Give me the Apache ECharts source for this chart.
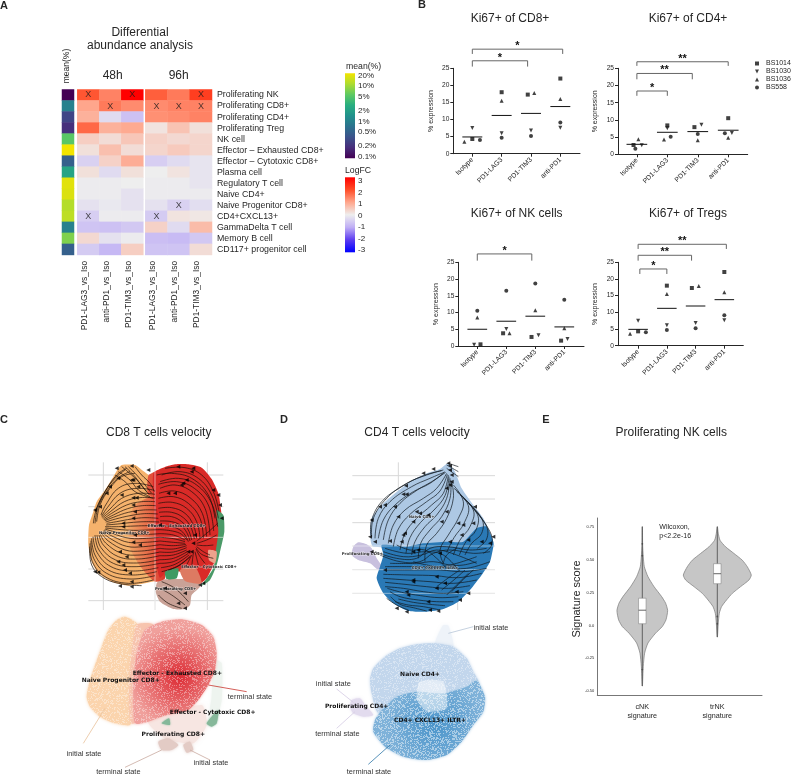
<!DOCTYPE html>
<html>
<head>
<meta charset="utf-8">
<style>
  html, body { margin: 0; padding: 0; background: #fff; }
  #chart { width: 791px; height: 775px; }
</style>
<script src="https://cdn.jsdelivr.net/npm/echarts@6/dist/echarts.min.js"></script>
</head>
<body>
<div id="chart"></div>
<script>
// panel A
const cellTypes = ['Proliferating NK', 'Proliferating CD8+', 'Proliferating CD4+', 'Proliferating Treg', 'NK cell',
  'Effector – Exhausted CD8+', 'Effector – Cytotoxic CD8+', 'Plasma cell', 'Regulatory T cell', 'Naive CD4+',
  'Naive Progenitor CD8+', 'CD4+CXCL13+', 'GammaDelta T cell', 'Memory B cell', 'CD117+ progenitor cell']
const contrasts = ['PD1-LAG3_vs_Iso', 'anti-PD1_vs_Iso', 'PD1-TIM3_vs_Iso']
const meanPercent = [0.1, 1, 0.3, 0.2, 5, 20, 0.5, 2.2, 17, 16, 11, 12, 1, 7, 0.5]
const logFc48h = [
  [1.9, 1.4, 3.0], [1.0, 1.5, 1.3], [0.85, -0.3, -0.7], [1.7, 0.85, 0.95], [0.45, 0.25, 0.55],
  [0.2, 0.65, 0.25], [-0.45, 0.4, 0.9], [0.2, -0.3, 0.2], [-0.05, -0.05, 0], [-0.05, -0.05, -0.2],
  [-0.2, -0.1, -0.2], [-0.5, -0.05, -0.05], [-0.65, -0.7, -0.6], [0.3, -0.2, -0.05], [-0.55, -0.85, 0.45]
]
const logFc96h = [
  [1.8, 1.5, 2.2], [1.3, 1.4, 1.4], [1.25, 1.3, 1.4], [0.15, 0.6, 0.2], [0.4, 0.3, 0.35],
  [0.35, 0.5, 0.35], [-0.5, -0.3, -0.15], [0, 0.15, -0.15], [-0.05, -0.05, -0.15], [-0.05, -0.05, -0.05],
  [-0.2, -0.45, -0.25], [-0.55, 0.15, 0.1], [0.4, -0.3, 0.7], [-0.75, -0.8, -0.6], [-0.65, -0.65, 0.25]
]
const marks48h = [[0, 0], [2, 0], [1, 1], [0, 11]]
const marks96h = [[2, 0], [0, 1], [1, 1], [2, 1], [1, 10], [0, 11]]
const meanTicks = [0.1, 0.2, 0.5, 1, 2, 5, 10, 20]
const logFcTicks = [-3, -2, -1, 0, 1, 2, 3]

// panel B
const treatments = ['Isotype', 'PD1-LAG3', 'PD1-TIM3', 'anti-PD1']
const donors = ['BS1014', 'BS1030', 'BS1036', 'BS558']
const cd8Values = [[4.3, 18, 17.3, 22], [7.5, 6, 6.8, 7.6], [3.5, 15.5, 17.8, 16], [4, 4.7, 5.2, 9.1]]
const cd8Jitter = [[0, 0, -0.11, 0], [0, 0, 0, 0], [-0.27, 0, 0.11, 0], [0.26, 0, 0, 0]]
const cd8Means = [4.9, 11.2, 11.8, 13.8]
const cd8Brackets = [[0, 3.08, 30.6, 29.2, '*'], [0, 1.885, 27.2, 25.5, '*']]
const cd4Values = [[2.7, 8.4, 7.9, 10.5], [2.6, 7.6, 8.6, 6.2], [4.4, 4.3, 4.1, 4.8], [1.6, 5.1, 5.9, 6.1]]
const cd4Jitter = [[-0.11, 0, -0.11, 0], [0.16, 0, 0.12, 0.12], [0.05, -0.11, 0, 0], [-0.05, 0.11, 0, -0.11]]
const cd4Means = [2.9, 6.4, 6.6, 7]
const cd4Brackets = [[0, 3, 26.9, 25.7, '**'], [0, 1.82, 23.5, 21.8, '**'], [0, 1, 18.4, 17, '*']]
const nkValues = [[0.5, 3.8, 2.7, 1.6], [0.4, 5.1, 3.2, 2.1], [8.5, 3.8, 10.7, 5.3], [10.5, 16.5, 18.7, 13.8]]
const nkJitter = [[0.11, -0.11, -0.13, -0.11], [-0.11, 0, 0.11, 0.11], [0, 0.11, 0, 0], [0, 0, 0, 0]]
const nkMeans = [5, 7.4, 8.9, 5.7]
const nkBrackets = [[0, 1.88, 27.5, 25.5, '*']]
const tregValues = [[4.3, 18, 17.3, 22.1], [7.5, 6.1, 6.8, 7.6], [3.6, 15.5, 17.9, 16], [4, 4.7, 5.2, 9.1]]
const tregJitter = [[0, 0, -0.13, 0], [0, 0, 0, 0], [-0.28, 0, 0.11, 0], [0.27, 0, 0, 0]]
const tregMeans = [4.9, 11.2, 11.9, 13.8]
const tregBrackets = [[0, 3.07, 30.4, 29, '**'], [0, 1.86, 27.1, 25.5, '**'], [0.06, 1, 23, 21.5, '*']]

// panel C, read in the pixels of the 3x crops
const cd8TopOrange = [[110, 30], [150, 30], [175, 48], [195, 62], [215, 60], [225, 200], [225, 370], [180, 385], [130, 392], [80, 380], [40, 355], [20, 320], [10, 270], [12, 210], [25, 170], [35, 140], [60, 105], [85, 65], [100, 40]]
const cd8TopSeam = [[190, 62], [215, 48], [240, 42], [240, 120], [190, 120]]
const cd8TopMix = [[225, 110], [150, 150], [130, 200], [135, 280], [170, 340], [210, 380], [240, 370], [240, 110]]
const cd8TopRed = [[205, 55], [240, 36], [270, 28], [310, 28], [350, 38], [380, 72], [400, 115], [408, 165], [412, 215], [405, 265], [395, 300], [385, 330], [365, 370], [345, 385], [330, 345], [290, 350], [250, 345], [225, 368], [210, 300], [208, 180]]
const cd8TopGreenRight = [[395, 165], [415, 180], [418, 230], [405, 290], [395, 330], [375, 375], [350, 392], [385, 340], [392, 290], [400, 230]]
const cd8TopGreenLeft = [[240, 350], [280, 340], [275, 370], [245, 372]]
const cd8TopSalmon = [[285, 345], [330, 335], [350, 385], [300, 378]]
const cd8TopPale = [[370, 285], [395, 290], [390, 325], [372, 315]]
const cd8TopTan = [[215, 385], [225, 375], [260, 372], [300, 372], [345, 372], [345, 395], [320, 420], [315, 450], [300, 462], [265, 462], [225, 440], [212, 410]]
const cd8TopGridV = [[[55, 22], [55, 465]], [[210, 22], [210, 465]], [[367, 22], [367, 465]]]
const cd8TopGridH = [[[10, 60], [415, 60]], [[10, 155], [415, 155]], [[10, 247], [415, 247]], [[10, 342], [415, 342]], [[10, 437], [415, 437]]]
const cd8TopStreams = [
  [[48, 180], [62, 150], [100, 100], [150, 85], [205, 95]], [[50, 186], [72, 165], [110, 130], [160, 115], [210, 118]],
  [[55, 192], [80, 175], [125, 150], [170, 140], [210, 140]], [[60, 197], [90, 185], [130, 172], [175, 165], [215, 165]],
  [[65, 205], [95, 200], [140, 192], [180, 188], [220, 190]], [[60, 215], [100, 215], [150, 213], [190, 212], [225, 212]],
  [[60, 222], [95, 232], [140, 238], [190, 238], [225, 236]], [[55, 228], [85, 245], [130, 262], [180, 262], [225, 258]],
  [[50, 235], [70, 258], [120, 285], [170, 288], [225, 280]], [[42, 240], [55, 270], [100, 305], [160, 312], [225, 302]],
  [[30, 240], [42, 285], [85, 325], [150, 335], [225, 325]], [[20, 250], [30, 300], [70, 345], [140, 360], [215, 350]],
  [[15, 265], [22, 320], [60, 365], [130, 385], [205, 375]], [[35, 200], [45, 150], [75, 100], [110, 65], [150, 55]],
  [[25, 205], [35, 160], [60, 110], [90, 70], [120, 45]], [[110, 35], [140, 60], [165, 85], [185, 110]],
  [[130, 35], [155, 60], [180, 90], [200, 115]], [[90, 60], [120, 80], [150, 110], [205, 130]],
  [[50, 183], [67, 158], [105, 115], [155, 100], [208, 106]], [[52, 189], [76, 170], [118, 140], [165, 128], [210, 129]],
  [[57, 195], [85, 180], [128, 161], [172, 152], [212, 152]], [[62, 201], [92, 192], [135, 182], [178, 176], [218, 177]],
  [[63, 210], [98, 207], [145, 202], [185, 200], [222, 201]], [[62, 219], [98, 223], [145, 226], [190, 225], [225, 224]],
  [[57, 225], [90, 238], [135, 250], [185, 250], [225, 247]], [[52, 232], [78, 252], [125, 274], [175, 275], [225, 269]],
  [[46, 238], [62, 264], [110, 295], [165, 300], [225, 291]], [[36, 240], [48, 278], [92, 315], [155, 324], [225, 314]],
  [[24, 245], [36, 292], [78, 335], [145, 348], [220, 338]], [[18, 257], [26, 310], [65, 355], [135, 372], [210, 362]],
  [[30, 205], [40, 155], [68, 105], [100, 68], [135, 50]], [[14, 275], [20, 330], [50, 365], [100, 385], [170, 392]],
  [[30, 170], [60, 110], [95, 60], [125, 40]], [[100, 50], [135, 75], [160, 105], [195, 125]],
  [[120, 35], [150, 65], [172, 95], [192, 118]], [[150, 35], [170, 60], [195, 85], [208, 110]],
  [[215, 60], [260, 55], [320, 70], [370, 120], [390, 190]], [[225, 100], [270, 90], [320, 110], [360, 160], [375, 240]],
  [[220, 130], [265, 125], [310, 145], [345, 190], [355, 250]], [[220, 160], [260, 158], [300, 175], [325, 210], [335, 250]],
  [[225, 185], [260, 185], [290, 200], [310, 225], [320, 255]], [[225, 212], [260, 215], [285, 225], [300, 240], [310, 260]],
  [[225, 236], [265, 240], [300, 255]], [[225, 258], [265, 262], [300, 265]], [[225, 280], [265, 282], [305, 272]],
  [[225, 302], [265, 300], [305, 285]], [[225, 325], [265, 320], [310, 295]], [[230, 350], [275, 335], [315, 305]],
  [[300, 340], [310, 320], [320, 300]], [[340, 330], [335, 310], [330, 290]], [[375, 300], [355, 290], [335, 275]],
  [[395, 240], [365, 255], [335, 265]], [[240, 40], [300, 38], [350, 60], [385, 110], [402, 170]],
  [[225, 80], [280, 70], [335, 90], [380, 145], [398, 215]],
  [[220, 88], [275, 80], [328, 100], [370, 150], [386, 228]], [[222, 115], [268, 108], [315, 128], [352, 175], [365, 245]],
  [[220, 145], [262, 142], [305, 160], [335, 200], [345, 250]], [[222, 172], [260, 172], [295, 188], [318, 218], [328, 252]],
  [[225, 198], [260, 200], [288, 212], [305, 232], [315, 258]], [[225, 224], [262, 228], [290, 238], [305, 255]],
  [[225, 247], [265, 251], [300, 260]], [[225, 269], [265, 272], [303, 268]], [[225, 291], [265, 291], [305, 278]],
  [[225, 314], [265, 310], [307, 290]], [[228, 338], [270, 328], [312, 300]], [[250, 345], [285, 330], [318, 302]],
  [[320, 340], [322, 318], [325, 295]], [[360, 325], [345, 305], [333, 282]], [[385, 270], [360, 272], [335, 270]],
  [[398, 205], [365, 235], [335, 258]], [[385, 310], [350, 298], [333, 278]], [[230, 60], [285, 50], [340, 70], [380, 120], [400, 190]],
  [[225, 400], [260, 420], [300, 450]], [[230, 380], [270, 400], [310, 440]], [[220, 420], [250, 445], [290, 460]]
]
const cd8TopArrows = [[145, 128], [145, 150], [150, 170], [145, 190], [115, 205], [115, 215], [150, 240], [145, 262], [165, 270], [105, 290], [125, 305], [115, 330], [120, 345], [135, 355], [100, 320], [140, 380], [140, 395], [105, 393], [30, 350], [40, 352], [45, 155], [30, 165], [65, 115], [75, 95], [95, 40], [140, 33], [190, 45], [145, 75], [160, 95], [140, 75], [100, 70], [110, 120], [155, 128], [295, 85], [305, 75], [290, 90], [270, 115], [250, 115], [280, 35], [325, 40], [385, 105], [400, 120], [405, 150], [410, 190], [330, 240], [325, 265], [320, 290], [310, 290], [225, 210], [345, 390], [355, 385], [300, 415], [280, 445], [300, 460], [240, 400], [320, 50]]
const cd8TopLabels = [['Effector - Exhausted CD8+', 275, 212], ['Naive Progenitor CD8+', 118, 233], ['Effector - Cytotoxic CD8+', 372, 335], ['Proliferating CD8+', 272, 403]]

const cd8BottomOrange = [[180, 20], [210, 35], [235, 65], [240, 100], [215, 140], [205, 200], [215, 290], [195, 345], [150, 340], [105, 320], [75, 290], [65, 260], [75, 210], [90, 165], [110, 110], [130, 60], [155, 30]]
const cd8BottomBlend = [[215, 45], [265, 45], [265, 300], [200, 340], [195, 200]]
const cd8BottomRed = [[240, 60], [290, 35], [350, 28], [410, 45], [445, 80], [455, 130], [450, 180], [430, 225], [400, 270], [370, 300], [330, 310], [290, 320], [250, 335], [210, 340], [205, 230], [215, 130]]
const cd8BottomTanA = [[280, 395], [310, 385], [340, 405], [320, 420], [290, 420]]
const cd8BottomTanB = [[355, 405], [375, 395], [385, 420], [365, 428]]
const cd8BottomHaze = [[250, 335], [410, 285], [425, 345], [385, 400], [300, 385]]
const cd8BottomHazeGreen = [[448, 150], [470, 160], [470, 270], [450, 340], [430, 345], [440, 260]]
const cd8BottomGreenA = [[425, 340], [460, 300], [455, 340], [440, 350]]
const cd8BottomGreenB = [[290, 340], [312, 325], [315, 345]]
const cd8BottomLeaders = [[[430, 225], [545, 245]], [[120, 295], [55, 400]], [[290, 420], [180, 472]], [[375, 420], [435, 450]]]
const cd8BottomLabels = [['Effector - Exhausted CD8+', 337, 190], ['Naive Progenitor CD8+', 167, 212], ['Effector - Cytotoxic CD8+', 443, 308], ['Proliferating CD8+', 325, 373]]
const cd8BottomStates = [['terminal state', 555, 262], ['initial state', 57, 431], ['terminal state', 160, 485], ['initial state', 438, 460]]

// panel D
const cd4TopLight = [[355, 25], [375, 50], [395, 100], [430, 150], [460, 190], [485, 245], [490, 275], [130, 275], [120, 240], [125, 190], [150, 155], [195, 115], [240, 80], [290, 55], [330, 42]]
const cd4TopDark = [[470, 215], [490, 260], [490, 275], [480, 320], [455, 360], [420, 405], [385, 440], [340, 462], [290, 470], [235, 468], [190, 445], [160, 415], [140, 370], [150, 335], [160, 300], [155, 270], [230, 275], [280, 265], [350, 260], [400, 260], [440, 220]]
const cd4TopPurple = [[85, 262], [110, 268], [125, 280], [140, 310], [160, 340], [145, 345], [120, 325], [85, 315], [65, 300], [70, 275]]
const cd4TopGridV = [[[205, 22], [205, 465]], [[383, 370], [383, 465]]]
const cd4TopGridH = [[[67, 62], [495, 62]], [[67, 132], [495, 132]], [[67, 203], [495, 203]], [[67, 273], [495, 273]], [[67, 344], [495, 344]], [[67, 415], [495, 415]]]
const cd4TopStreams = [
  [[340, 45], [290, 60], [230, 85], [170, 130], [130, 190], [125, 245]], [[345, 50], [300, 85], [250, 110], [195, 150], [160, 195], [145, 250]],
  [[350, 55], [320, 100], [280, 130], [225, 165], [190, 210], [175, 265]], [[355, 60], [340, 115], [305, 150], [260, 190], [225, 235], [210, 285]],
  [[360, 70], [350, 130], [320, 180], [285, 215], [255, 260], [245, 300]], [[365, 80], [370, 130], [350, 190], [320, 235], [290, 270], [285, 320]],
  [[370, 90], [400, 140], [385, 190], [355, 240], [330, 285], [340, 325]], [[380, 110], [430, 165], [420, 215], [390, 255], [370, 300]],
  [[400, 130], [455, 190], [455, 235], [425, 265], [405, 300]], [[430, 160], [480, 230], [485, 270], [460, 295]],
  [[355, 25], [385, 35]], [[350, 30], [385, 50]], [[350, 40], [385, 65]], [[165, 280], [230, 295], [290, 290], [340, 300], [385, 345]],
  [[470, 340], [400, 350], [330, 345], [250, 345], [170, 345]], [[440, 375], [370, 385], [300, 380], [230, 375], [160, 370]],
  [[400, 410], [340, 415], [280, 410], [220, 400], [165, 395]], [[370, 440], [320, 440], [265, 435], [210, 425], [180, 410]],
  [[330, 465], [280, 455], [235, 450], [195, 440]], [[235, 465], [200, 450], [170, 430]], [[390, 345], [360, 365], [320, 395]],
  [[415, 355], [385, 385], [350, 420]], [[380, 280], [350, 300], [340, 325]], [[250, 320], [290, 330], [330, 335], [380, 325], [440, 305]],
  [[135, 290], [200, 310], [260, 310], [300, 280], [350, 275], [420, 285], [470, 280]], [[342, 52], [300, 70], [245, 95], [180, 140], [145, 190], [135, 250]],
  [[352, 58], [330, 108], [290, 140], [240, 178], [205, 222], [190, 275]], [[362, 75], [360, 130], [335, 185], [300, 225], [272, 265], [265, 310]],
  [[347, 52], [305, 80], [262, 105], [210, 145], [175, 195], [160, 255]], [[357, 65], [345, 122], [312, 165], [272, 202], [240, 248], [228, 295]],
  [[372, 100], [415, 152], [402, 205], [372, 248], [350, 292]], [[390, 120], [442, 178], [438, 225], [408, 260], [388, 300]],
  [[415, 145], [468, 210], [470, 252], [442, 280]], [[335, 47], [280, 62], [215, 95], [155, 140], [125, 195], [122, 240]],
  [[150, 300], [210, 320], [270, 320], [310, 295], [360, 285], [430, 295], [480, 290]], [[160, 290], [220, 305], [275, 300], [320, 285], [380, 300], [440, 325]],
  [[200, 270], [240, 285], [285, 285], [320, 310], [345, 335]], [[440, 320], [400, 330], [360, 330], [310, 320], [260, 325], [180, 325]],
  [[480, 320], [410, 340], [340, 338], [250, 335], [165, 335]], [[455, 355], [385, 368], [315, 362], [240, 360], [160, 358]],
  [[420, 392], [355, 400], [290, 395], [225, 388], [165, 382]], [[385, 425], [330, 428], [272, 422], [215, 412], [172, 400]],
  [[345, 452], [300, 448], [250, 442], [205, 432]], [[290, 468], [250, 458], [210, 448], [182, 425]],
  [[430, 345], [395, 378], [365, 410]], [[405, 345], [375, 372], [335, 405]]
]
const cd4TopArrows = [[355, 25], [360, 32], [360, 45], [365, 60], [365, 80], [360, 90], [350, 100], [310, 42], [280, 55], [228, 92], [220, 118], [230, 118], [150, 155], [165, 150], [125, 195], [120, 245], [135, 260], [195, 155], [205, 185], [260, 170], [270, 175], [295, 180], [250, 200], [225, 235], [220, 240], [180, 258], [215, 260], [350, 170], [335, 200], [385, 205], [400, 210], [430, 205], [395, 240], [415, 255], [455, 260], [480, 265], [490, 245], [435, 155], [250, 290], [265, 285], [330, 295], [360, 260], [165, 345], [250, 375], [250, 380], [230, 410], [235, 420], [320, 365], [345, 385], [320, 400], [380, 410], [415, 415], [390, 435], [200, 460], [230, 470], [300, 465], [325, 468], [295, 440], [125, 290]]
const cd4TopLabels = [['Naive CD4+', 275, 185], ['CD4+ CXCL13+ ILTR+', 315, 340], ['Proliferating CD4+', 97, 296]]

const cd4BottomPeak = [[398, 32], [415, 32], [430, 95], [375, 90]]
const cd4BottomLight = [[375, 85], [430, 95], [470, 130], [490, 170], [505, 200], [480, 270], [300, 300], [205, 295], [185, 235], [180, 195], [190, 160], [225, 125], [265, 102], [320, 88]]
const cd4BottomDark = [[500, 195], [525, 245], [520, 290], [490, 330], [455, 380], [410, 420], [350, 435], [280, 425], [225, 395], [190, 350], [195, 315], [220, 280], [260, 245], [320, 230], [400, 235], [470, 215]]
const cd4BottomPale = [[330, 200], [400, 200], [410, 280], [350, 290], [320, 250]]
const cd4BottomPurple = [[125, 255], [150, 250], [165, 270], [190, 300], [160, 305], [130, 295], [120, 275]]
const cd4BottomLeaderInitial = [[[415, 55], [490, 35]]]
const cd4BottomLeaderPurple = [[[80, 222], [130, 262]], [[80, 340], [135, 290]]]
const cd4BottomLeaderDark = [[[175, 448], [240, 390]]]
const cd4BottomLabels = [['Naive CD4+', 330, 177], ['Proliferating CD4+', 140, 275], ['CD4+ CXCL13+ ILTR+', 360, 317]]
const cd4BottomStates = [['initial state', 543, 38], ['initial state', 70, 207], ['terminal state', 82, 358], ['terminal state', 177, 470]]

// panel E, score against half width of the violin
const signatureNames = ['cNK\nsignature', 'trNK\nsignature']
const cnkScores = [-0.46, -0.31, -0.21, -0.133, -0.058, -0.008, 0.043, 0.113, 0.169, 0.219, 0.295, 0.37, 0.446, 0.52, 0.62, 0.75]
const cnkDensity = [0.002, 0.013, 0.031, 0.076, 0.178, 0.267, 0.316, 0.338, 0.311, 0.258, 0.156, 0.076, 0.027, 0.013, 0.004, 0.002]
const trnkScores = [-0.088, 0.018, 0.093, 0.144, 0.194, 0.244, 0.295, 0.345, 0.383, 0.446, 0.496, 0.547, 0.597, 0.647, 0.7, 0.75]
const trnkDensity = [0.002, 0.013, 0.027, 0.058, 0.124, 0.2, 0.311, 0.422, 0.453, 0.4, 0.333, 0.222, 0.111, 0.036, 0.013, 0.002]
const signatureBoxes = [[-0.46, 0.013, 0.116, 0.207, 0.75], [-0.088, 0.317, 0.393, 0.469, 0.75]]
const signatureOutliers = [[0, 0.62], [0, 0.53], [0, -0.335], [1, 0.068], [1, 0.013]]
const signatureTicks = [-0.5, -0.25, 0, 0.25, 0.5, 0.75]

const viridis = ['#440154', '#472d7b', '#3b528b', '#2c728e', '#21918c', '#28ae80', '#5ec962', '#addc30', '#f2e400']
const logFcColors = ['#0000ff', '#5c3cf0', '#bfaef5', '#eeeeee', '#ffa68c', '#ff4d28', '#ff0000']
const ink = '#262626'

// white speckle tile, only a look for the filled umap regions
function speckleTile(density, alpha) {
  const size = 160
  const tile = document.createElement('canvas')
  tile.width = size
  tile.height = size
  const ctx = tile.getContext('2d')
  ctx.fillStyle = 'rgba(255,255,255,' + alpha + ')'
  for (let y = 0; y < size; y++) {
    for (let x = 0; x < size; x++) {
      const h = Math.sin(x * 12.9898 + y * 78.233) * 43758.5453
      if (h - Math.floor(h) < density) ctx.fillRect(x, y, 1, 1)
    }
  }
  return tile
}
const speckle = { image: speckleTile(0.25, 0.35), repeat: 'repeat' }
const speckleDense = { image: speckleTile(0.32, 0.45), repeat: 'repeat' }

function gradV(colors) {
  return new echarts.graphic.LinearGradient(0, 1, 0, 0, colors.map((c, i) => ({ offset: i / (colors.length - 1), color: c })))
}
function gradH(from, to) {
  return new echarts.graphic.LinearGradient(0, 0, 1, 0, [{ offset: 0, color: from }, { offset: 1, color: to }])
}
function gradR(center, edge) {
  return new echarts.graphic.RadialGradient(0.55, 0.55, 0.6, [{ offset: 0, color: center }, { offset: 1, color: edge }])
}

const grids = []
const xAxes = []
const yAxes = []
const series = []

function addGrid(box, xAxis, yAxis) {
  const i = grids.length
  grids.push(Object.assign({ containLabel: false }, box))
  xAxes.push(Object.assign({ gridIndex: i }, xAxis))
  yAxes.push(Object.assign({ gridIndex: i }, yAxis))
  return i
}
function customSeries(g, items, renderOne) {
  series.push({
    type: 'custom',
    coordinateSystem: 'cartesian2d',
    xAxisIndex: g,
    yAxisIndex: g,
    silent: true,
    data: items.map((_, i) => [i]),
    renderItem: (params, api) => renderOne(items[params.dataIndex], api)
  })
}
// filled regions: [points, fill, blur, blur colour]
function areas(g, items) {
  customSeries(g, items, (it, api) => ({
    type: 'polygon',
    shape: { points: it[0].map(p => api.coord(p)), smooth: 0.2 },
    style: { fill: it[1], shadowBlur: it[2] || 0, shadowColor: it[3] || 'transparent' }
  }))
}
function paths(g, lines, stroke, width, smooth) {
  customSeries(g, lines, (line, api) => ({
    type: 'polyline',
    shape: { points: line.map(p => api.coord(p)), smooth: smooth || 0 },
    style: { stroke: stroke, lineWidth: width, fill: null }
  }))
}
function texts(g, items, font, fill, halo) {
  customSeries(g, items, (it, api) => {
    const p = api.coord([it[1], it[2]])
    return {
      type: 'text',
      x: p[0],
      y: p[1],
      style: { text: it[0], font: font, fill: fill, align: 'center', verticalAlign: 'middle', stroke: halo || null, lineWidth: halo ? 1 : 0 }
    }
  })
}
function arrows(g, points) {
  series.push({
    type: 'scatter',
    xAxisIndex: g,
    yAxisIndex: g,
    silent: true,
    symbol: 'triangle',
    symbolSize: 4,
    symbolRotate: 90,
    itemStyle: { color: '#000' },
    data: points
  })
}
function hiddenGrid(left, top, w, h) {
  return addGrid({ left: left, top: top, width: w, height: h },
    { type: 'value', show: false, min: 0, max: w * 3 },
    { type: 'value', show: false, min: 0, max: h * 3, inverse: true })
}

// panel A grids
const rowBand = 11.03
const catAxisOff = { show: false, axisLine: { show: false }, axisTick: { show: false } }
const stripGrid = addGrid({ left: 62, top: 89.5, width: 12, height: rowBand * 15 },
  Object.assign({ type: 'category', data: ['mean'] }, catAxisOff),
  Object.assign({ type: 'category', data: cellTypes, inverse: true }, catAxisOff))
const xLabelStyle = { rotate: 90, fontSize: 8.4, color: ink, margin: 6, interval: 0, verticalAlign: 'bottom', fontFamily: 'Liberation Sans' }
const grid48 = addGrid({ left: 77.3, top: 89.5, width: 66, height: rowBand * 15 },
  { type: 'category', data: contrasts, axisLine: { show: false }, axisTick: { show: false }, axisLabel: xLabelStyle },
  Object.assign({ type: 'category', data: cellTypes, inverse: true }, catAxisOff))
const grid96 = addGrid({ left: 145.3, top: 89.5, width: 66.7, height: rowBand * 15 },
  { type: 'category', data: contrasts, axisLine: { show: false }, axisTick: { show: false }, axisLabel: xLabelStyle },
  { type: 'category', data: cellTypes, inverse: true, position: 'right', axisLine: { show: false }, axisTick: { show: false },
    axisLabel: { fontSize: 8.8, color: ink, margin: 5, interval: 0, fontFamily: 'Liberation Sans' } })

series.push({ type: 'heatmap', xAxisIndex: stripGrid, yAxisIndex: stripGrid, silent: true,
  data: meanPercent.map((v, r) => [0, r, Math.log10(v)]) })
series.push({ type: 'heatmap', xAxisIndex: grid48, yAxisIndex: grid48, silent: true,
  data: logFc48h.flatMap((row, r) => row.map((v, c) => [c, r, v])) })
series.push({ type: 'heatmap', xAxisIndex: grid96, yAxisIndex: grid96, silent: true,
  data: logFc96h.flatMap((row, r) => row.map((v, c) => [c, r, v])) })

function crossMarks(g, marks) {
  series.push({ type: 'scatter', xAxisIndex: g, yAxisIndex: g, silent: true, symbolSize: 1, itemStyle: { color: 'transparent' },
    label: { show: true, position: 'inside', formatter: 'X', fontSize: 9, color: '#1a1a1a', fontFamily: 'Liberation Sans' },
    data: marks })
}
crossMarks(grid48, marks48h)
crossMarks(grid96, marks96h)

// colour bars
function colorBar(box, lo, hi, ticks, colors, label) {
  const g = addGrid(box,
    { type: 'value', show: false, min: 0, max: 1 },
    { type: 'value', min: lo, max: hi, position: 'right', axisLine: { show: false, onZero: false },
      axisTick: { show: true, inside: true, length: 3, lineStyle: { color: '#fff' }, customValues: ticks },
      splitLine: { show: false },
      axisLabel: { fontSize: 8, color: ink, margin: 3, customValues: ticks, formatter: label, fontFamily: 'Liberation Sans' } })
  customSeries(g, [[0, lo, 1, hi]], (it, api) => {
    const a = api.coord([it[0], it[3]])
    const b = api.coord([it[2], it[1]])
    return { type: 'rect', shape: { x: a[0], y: a[1], width: b[0] - a[0], height: b[1] - a[1] }, style: { fill: gradV(colors) } }
  })
}
const logMeanTicks = meanTicks.map(v => Math.log10(v))
colorBar({ left: 345, top: 73.3, width: 10, height: 85 }, -1.045, 1.369, logMeanTicks, viridis,
  v => meanTicks[logMeanTicks.findIndex(t => Math.abs(t - v) < 1e-6)] + '%')
colorBar({ left: 345, top: 177.3, width: 10, height: 75 }, -3.2, 3.32, logFcTicks, logFcColors, v => String(v))

// panel B
const donorSymbols = ['rect', 'path://M0,0 L10,0 L5,10 Z', 'triangle', 'circle']
function swarm(box, spanMin, spanMax, values, jitter, means, brackets) {
  const g = addGrid(box,
    { type: 'value', min: spanMin, max: spanMax, splitLine: { show: false },
      axisLine: { onZero: false, lineStyle: { color: ink } },
      axisTick: { length: 3, lineStyle: { color: ink }, customValues: [0, 1, 2, 3] },
      axisLabel: { rotate: 45, fontSize: 6.8, color: ink, margin: 5, customValues: [0, 1, 2, 3], formatter: v => treatments[v], fontFamily: 'Liberation Sans' } },
    { type: 'value', min: 0, max: 25, interval: 5, splitLine: { show: false }, name: '% expression', nameLocation: 'middle', nameGap: 19,
      nameTextStyle: { fontSize: 7, color: ink, fontFamily: 'Liberation Sans' },
      axisLine: { show: true, onZero: false, lineStyle: { color: ink } },
      axisTick: { show: true, length: 3, lineStyle: { color: ink } },
      axisLabel: { fontSize: 6.6, color: ink, margin: 4, fontFamily: 'Liberation Sans' } })
  donors.forEach((name, d) => {
    series.push({ type: 'scatter', name: name, xAxisIndex: g, yAxisIndex: g, silent: true,
      symbol: donorSymbols[d], symbolSize: 4, itemStyle: { color: '#111' },
      data: values[d].map((v, i) => [i + jitter[d][i], v]) })
  })
  paths(g, means.map((m, i) => [[i - 0.34, m], [i + 0.34, m]]), '#111', 1)
  paths(g, brackets.map(b => [[b[0], b[3]], [b[0], b[2]], [b[1], b[2]], [b[1], b[3]]]), '#666', 1)
  texts(g, brackets.map(b => [b[4], (b[0] + b[1]) / 2, b[2] + 0.9]), 'bold 11px "Liberation Sans"', '#111')
}
swarm({ left: 453.3, top: 68.3, width: 126.7, height: 85.4 }, -0.648, 3.67, cd8Values, cd8Jitter, cd8Means, cd8Brackets)
swarm({ left: 618, top: 68.3, width: 129.7, height: 86 }, -0.62, 3.64, cd4Values, cd4Jitter, cd4Means, cd4Brackets)
swarm({ left: 458.3, top: 262.3, width: 125.7, height: 83.7 }, -0.655, 3.68, nkValues, nkJitter, nkMeans, nkBrackets)
swarm({ left: 618, top: 262.3, width: 125.3, height: 83.4 }, -0.7, 3.66, tregValues, tregJitter, tregMeans, tregBrackets)

// panel C
const cd8Top = hiddenGrid(85, 455, 150, 160)
paths(cd8Top, cd8TopGridV.concat(cd8TopGridH), '#d8d8d8', 1)
areas(cd8Top, [
  [cd8TopTan, '#c9a297'],
  [cd8TopOrange, '#f5b26c'],
  [cd8TopSeam, '#e2503a'],
  [cd8TopMix, gradH('#f4a868', '#d9342b')],
  [cd8TopRed, '#d92a27'],
  [cd8TopGreenRight, '#4b9a68'],
  [cd8TopGreenLeft, '#3f9a63'],
  [cd8TopSalmon, '#dd7a62'],
  [cd8TopPale, '#eda28c']
])
paths(cd8Top, cd8TopGridV.slice(1, 2).concat(cd8TopGridH.slice(2, 3)), 'rgba(255,255,255,0.55)', 1)
paths(cd8Top, cd8TopStreams, '#1a1008', 0.7, 0.4)
arrows(cd8Top, cd8TopArrows)
texts(cd8Top, cd8TopLabels, 'bold 3.9px "DejaVu Sans"', '#222', 'rgba(255,255,255,0.5)')

const cd8Bottom = hiddenGrid(65, 610, 215, 165)
areas(cd8Bottom, [
  [cd8BottomHaze, '#f7e6e2', 4, '#f7e6e2'],
  [cd8BottomHazeGreen, '#eef4ef', 3, '#eef4ef'],
  [cd8BottomTanA, '#e3cbc5', 3, '#e3cbc5'],
  [cd8BottomTanB, '#e3cbc5', 3, '#e3cbc5'],
  [cd8BottomOrange, '#fbd4ad', 3, '#fbd4ad'],
  [cd8BottomBlend, '#f7c4ae', 3, '#f7c4ae'],
  [cd8BottomOrange, speckle],
  [cd8BottomRed, gradR('#dc2a33', '#f0a09c'), 3, '#f5b5b0'],
  [cd8BottomRed, speckle],
  [cd8BottomGreenA, '#86b89a', 2, '#86b89a'],
  [cd8BottomGreenB, '#86b89a', 2, '#86b89a']
])
paths(cd8Bottom, cd8BottomLeaders.slice(0, 1), '#c9362f', 0.8)
paths(cd8Bottom, cd8BottomLeaders.slice(1, 2), '#e9c29a', 0.8)
paths(cd8Bottom, cd8BottomLeaders.slice(2), '#c9a99f', 0.8)
texts(cd8Bottom, cd8BottomLabels, 'bold 6px "DejaVu Sans"', '#111')
texts(cd8Bottom, cd8BottomStates, '7.4px "Liberation Sans"', '#333')

// panel D
const cd4Top = hiddenGrid(330, 455, 165, 165)
paths(cd4Top, cd4TopGridV.concat(cd4TopGridH), '#d8d8d8', 1)
areas(cd4Top, [
  [cd4TopPurple, '#c8c0de'],
  [cd4TopLight, '#adc8e4'],
  [cd4TopDark, '#2a79b6']
])
paths(cd4Top, cd4TopGridH.slice(3, 6), 'rgba(255,255,255,0.45)', 1)
paths(cd4Top, cd4TopStreams, '#101820', 0.7, 0.4)
arrows(cd4Top, cd4TopArrows)
texts(cd4Top, cd4TopLabels, 'bold 3.9px "DejaVu Sans"', '#333', 'rgba(255,255,255,0.45)')

const cd4Bottom = hiddenGrid(310, 615, 205, 160)
areas(cd4Bottom, [
  [cd4BottomPurple, '#e2dbee', 3, '#e2dbee'],
  [cd4BottomPeak, '#eef3f9', 3, '#eef3f9'],
  [cd4BottomLight, '#c2d6ec', 3, '#c2d6ec'],
  [cd4BottomLight, speckle],
  [cd4BottomDark, gradR('#4a94ca', '#7fb2d9'), 3, '#a9cbe6'],
  [cd4BottomDark, speckleDense],
  [cd4BottomPale, 'rgba(255,255,255,0.4)', 4, 'rgba(255,255,255,0.6)']
])
paths(cd4Bottom, cd4BottomLeaderInitial, '#b7c7d8', 0.8)
paths(cd4Bottom, cd4BottomLeaderPurple, '#d4cae3', 0.8)
paths(cd4Bottom, cd4BottomLeaderDark, '#2f77a8', 0.8)
texts(cd4Bottom, cd4BottomLabels, 'bold 6px "DejaVu Sans"', '#111')
texts(cd4Bottom, cd4BottomStates, '7.4px "Liberation Sans"', '#333')

// panel E
const violinGrid = addGrid({ left: 597.3, top: 518, width: 164.7, height: 177 },
  { type: 'value', min: -0.6, max: 1.596, splitLine: { show: false },
    axisLine: { onZero: false, lineStyle: { color: '#777' } }, axisTick: { show: false },
    axisLabel: { fontSize: 7.2, color: ink, lineHeight: 9, margin: 8, customValues: [0, 1], formatter: v => signatureNames[v], fontFamily: 'Liberation Sans' } },
  { type: 'value', min: -0.528, max: 0.816, splitLine: { show: false },
    axisLine: { show: true, onZero: false, lineStyle: { color: '#777' } },
    axisTick: { show: false, customValues: signatureTicks },
    axisLabel: { fontSize: 4, color: ink, margin: 3, customValues: signatureTicks,
      formatter: v => (v === 0 ? '0.0' : v.toFixed(2)), fontFamily: 'Liberation Sans' } })
function violinOutline(center, scores, density) {
  const right = scores.map((s, i) => [center + density[i], s])
  const left = scores.map((s, i) => [center - density[i], s]).reverse()
  return right.concat(left)
}
customSeries(violinGrid, [violinOutline(0, cnkScores, cnkDensity), violinOutline(1, trnkScores, trnkDensity)], (pts, api) => ({
  type: 'polygon',
  shape: { points: pts.map(p => api.coord(p)), smooth: 0.2 },
  style: { fill: '#c6c6c6', stroke: '#7a7a7a', lineWidth: 0.7 }
}))
paths(violinGrid, signatureBoxes.map((b, i) => [[i, b[0]], [i, b[4]]]), '#555', 0.9)
customSeries(violinGrid, signatureBoxes.map((b, i) => [i, b]), (it, api) => {
  const x = it[0]
  const b = it[1]
  const a = api.coord([x - 0.05, b[3]])
  const c = api.coord([x + 0.05, b[1]])
  const m1 = api.coord([x - 0.05, b[2]])
  const m2 = api.coord([x + 0.05, b[2]])
  return {
    type: 'group',
    children: [
      { type: 'rect', shape: { x: a[0], y: a[1], width: c[0] - a[0], height: c[1] - a[1] }, style: { fill: '#fff', stroke: '#888', lineWidth: 0.6 } },
      { type: 'line', shape: { x1: m1[0], y1: m1[1], x2: m2[0], y2: m2[1] }, style: { stroke: '#555', lineWidth: 0.9 } }
    ]
  }
})
series.push({ type: 'scatter', xAxisIndex: violinGrid, yAxisIndex: violinGrid, silent: true, symbolSize: 1.8,
  itemStyle: { color: '#444' }, data: signatureOutliers })

// free text: titles and panel letters
const titleFont = '12px "Liberation Sans"'
const letterFont = 'bold 11px "Liberation Sans"'
function label(text, x, y, font, align, rotation) {
  return { type: 'text', x: x, y: y, rotation: rotation || 0, silent: true,
    style: { text: text, font: font, fill: ink, align: align || 'center', verticalAlign: 'middle' } }
}
const freeText = [
  label('A', 4, 6, letterFont), label('B', 422, 5, letterFont), label('C', 4, 420, letterFont),
  label('D', 284, 420, letterFont), label('E', 546, 420, letterFont),
  label('Differential', 140, 33, titleFont), label('abundance analysis', 140, 46, titleFont),
  label('48h', 112.7, 76, titleFont), label('96h', 178.7, 76, titleFont),
  label('mean(%)', 67, 66, '8.5px "Liberation Sans"', 'center', Math.PI / 2),
  label('mean(%)', 346, 67, '8.7px "Liberation Sans"', 'left'),
  label('LogFC', 345, 170.7, '8.7px "Liberation Sans"', 'left'),
  label('Ki67+ of CD8+', 510, 19, titleFont), label('Ki67+ of CD4+', 688, 19, titleFont),
  label('Ki67+ of NK cells', 516.7, 214, titleFont), label('Ki67+ of Tregs', 688, 214, titleFont),
  label('CD8 T cells velocity', 158.7, 432.7, titleFont), label('CD4 T cells velocity', 417, 432.7, titleFont),
  label('Proliferating NK cells', 671.3, 432.7, titleFont),
  label('Signature score', 577, 599, '11px "Liberation Sans"', 'center', Math.PI / 2),
  label('Wilcoxon,', 659.3, 526.7, '7px "Liberation Sans"', 'left'),
  label('p<2.2e-16', 659.3, 535.7, '7px "Liberation Sans"', 'left')
]

const chart = echarts.init(document.getElementById('chart'))
chart.setOption({
  animation: false,
  backgroundColor: '#fff',
  textStyle: { fontFamily: 'Liberation Sans' },
  grid: grids,
  xAxis: xAxes,
  yAxis: yAxes,
  legend: { left: 755, top: 60, padding: 0, orient: 'vertical', itemWidth: 4, itemHeight: 4, itemGap: 1, data: donors,
    selectedMode: false, textStyle: { fontSize: 7, color: ink, padding: [0, 0, 0, 2], fontFamily: 'Liberation Sans' } },
  visualMap: [
    { show: false, seriesIndex: 0, dimension: 2, min: -1, max: Math.log10(20), inRange: { color: viridis } },
    { show: false, seriesIndex: [1, 2], dimension: 2, min: -3, max: 3, inRange: { color: logFcColors } }
  ],
  series: series,
  graphic: freeText
})
</script>
</body>
</html>
